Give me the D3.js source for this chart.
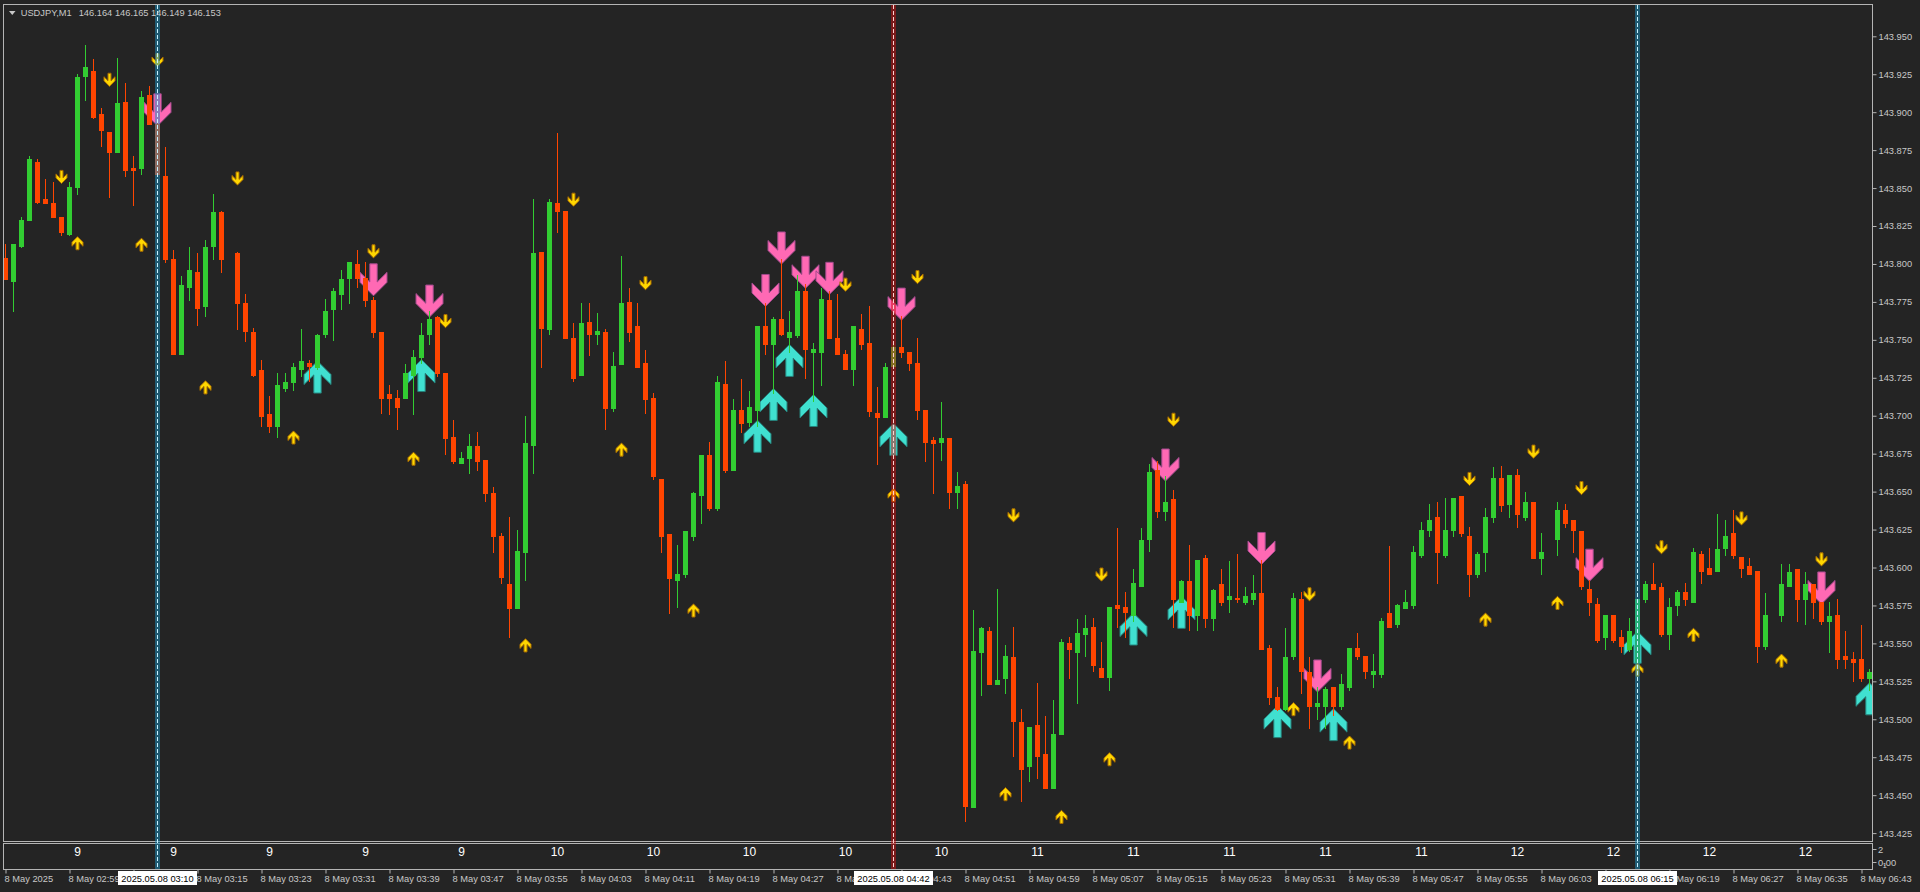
<!DOCTYPE html>
<html><head><meta charset="utf-8">
<script src="https://cdn.jsdelivr.net/npm/d3@7"></script>
<style>html,body{margin:0;padding:0;background:#242424;overflow:hidden}svg{display:block}</style>
</head><body><svg id="c" width="1920" height="892"></svg>
<script>
// ---------- DATA (USDJPY M1, 8 May 2025, bars from 02:51) ----------
const symbolTitle = "USDJPY,M1";
const headerQuote = "146.164 146.165 146.149 146.153";
const open = [143.804,143.789,143.812,143.829,143.867,143.843,143.840,143.831,143.820,143.851,
143.924,143.927,143.899,143.887,143.874,143.907,143.863,143.863,143.911,143.892,
143.858,143.803,143.741,143.785,143.795,143.772,143.812,143.834,143.803,143.807,
143.774,143.755,143.730,143.701,143.693,143.718,143.722,143.731,143.735,143.732,
143.754,143.770,143.780,143.791,143.800,143.791,143.776,143.755,143.714,143.712,
143.712,143.727,143.739,143.754,143.765,143.728,143.686,143.669,143.672,143.680,
143.671,143.649,143.621,143.589,143.573,143.610,143.681,143.808,143.757,143.840,
143.835,143.751,143.727,143.762,143.754,143.755,143.705,143.734,143.775,143.759,
143.735,143.712,143.658,143.622,143.592,143.596,143.621,143.648,143.674,143.639,
143.721,143.664,143.704,143.696,143.704,143.759,143.747,143.764,143.752,143.753,
143.782,143.742,143.742,143.776,143.751,143.741,143.731,143.757,143.748,143.702,
143.699,143.733,143.745,143.742,143.735,143.704,143.684,143.683,143.685,143.650,
143.655,143.442,143.544,143.558,143.523,143.527,143.541,143.498,143.469,143.496,
143.477,143.455,143.490,143.550,143.544,143.556,143.561,143.534,143.528,143.575,
143.574,143.569,143.588,143.619,143.664,143.637,143.645,143.577,143.591,143.569,
143.606,143.567,143.589,143.579,143.580,143.577,143.579,143.583,143.547,143.515,
143.507,143.542,143.579,143.531,143.509,143.509,143.521,143.509,143.521,143.547,
143.542,143.530,143.530,143.570,143.563,143.573,143.575,143.608,143.625,143.633,
143.608,143.625,143.647,143.621,143.596,143.610,143.633,143.659,143.642,143.661,
143.633,143.643,143.606,143.610,143.619,143.638,143.631,143.624,143.586,143.576,
143.554,143.569,143.554,143.546,143.538,143.579,143.589,143.587,143.556,143.575,
143.584,143.577,143.609,143.600,143.598,143.613,143.623,143.607,143.601,143.598,
143.548,143.569,143.569,143.588,143.599,143.579,143.589,143.577,143.565,143.569,
143.542,143.540,143.540,143.527];
const high = [143.813,143.813,143.831,143.871,143.869,143.856,143.854,143.831,143.854,143.925,
143.944,143.935,143.903,143.887,143.936,143.919,143.871,143.914,143.917,143.895,
143.877,143.809,143.792,143.811,143.807,143.816,143.846,143.835,143.803,143.808,
143.780,143.758,143.737,143.713,143.728,143.728,143.735,143.757,143.737,143.754,
143.777,143.784,143.796,143.801,143.809,143.801,143.778,143.755,143.720,143.717,
143.734,143.743,143.761,143.769,143.766,143.728,143.697,143.676,143.688,143.689,
143.671,143.653,143.623,143.633,143.625,143.700,143.843,143.808,143.843,143.886,
143.835,143.761,143.774,143.774,143.768,143.757,143.742,143.805,143.784,143.774,
143.743,143.715,143.658,143.622,143.615,143.624,143.650,143.674,143.683,143.726,
143.736,143.711,143.724,143.716,143.759,143.774,143.765,143.803,143.769,143.793,
143.787,143.748,143.784,143.782,143.780,143.743,143.759,143.767,143.772,143.719,
143.735,143.747,143.766,143.742,143.751,143.704,143.686,143.709,143.685,143.663,
143.657,143.572,143.561,143.561,143.586,143.549,143.561,143.507,143.495,143.524,
143.502,143.513,143.553,143.554,143.566,143.569,143.567,143.551,143.574,143.626,
143.584,143.599,143.626,143.668,143.670,143.660,143.651,143.592,143.615,143.605,
143.608,143.586,143.599,143.604,143.609,143.587,143.595,143.605,143.549,143.521,
143.560,143.583,143.584,143.541,143.521,143.521,143.521,143.530,143.547,143.557,
143.542,143.543,143.567,143.614,143.576,143.585,143.614,143.630,143.642,143.643,
143.646,143.646,143.647,143.627,143.610,143.639,143.666,143.667,143.661,143.665,
143.650,143.643,143.623,143.610,143.643,143.642,143.631,143.624,143.592,143.580,
143.569,143.569,143.559,143.567,143.579,143.591,143.603,143.590,143.580,143.585,
143.590,143.613,143.611,143.613,143.635,143.631,143.638,143.607,143.606,143.598,
143.583,143.569,143.602,143.602,143.599,143.597,143.589,143.577,143.577,143.579,
143.558,143.544,143.562,143.533];
const low = [143.790,143.769,143.811,143.829,143.840,143.840,143.831,143.819,143.819,143.846,
143.908,143.896,143.878,143.844,143.874,143.858,143.839,143.859,143.892,143.859,
143.801,143.741,143.741,143.776,143.760,143.766,143.803,143.795,143.803,143.757,
143.749,143.726,143.693,143.689,143.686,143.716,143.717,143.726,143.723,143.731,
143.752,143.750,143.770,143.774,143.785,143.772,143.752,143.702,143.701,143.691,
143.712,143.701,143.735,143.747,143.726,143.675,143.669,143.669,143.662,143.664,
143.644,143.610,143.590,143.554,143.573,143.592,143.662,143.732,143.754,143.821,
143.751,143.723,143.727,143.740,143.747,143.691,143.703,143.734,143.749,143.732,
143.702,143.658,143.610,143.570,143.574,143.594,143.618,143.629,143.638,143.638,
143.663,143.664,143.689,143.693,143.693,143.741,143.715,143.753,143.742,143.752,
143.725,143.710,143.720,143.751,143.741,143.731,143.720,143.744,143.700,143.668,
143.699,143.732,143.739,143.730,143.698,143.670,143.649,143.671,143.639,143.639,
143.433,143.442,143.516,143.523,143.523,143.517,143.476,143.446,143.459,143.461,
143.455,143.455,143.490,143.527,143.511,143.542,143.532,143.528,143.519,143.561,
143.554,143.565,143.588,143.611,143.633,143.631,143.561,143.577,143.559,143.559,
143.561,143.559,143.575,143.571,143.577,143.576,143.576,143.546,143.510,143.506,
143.506,143.540,143.517,143.494,143.500,143.494,143.503,143.507,143.519,143.540,
143.527,143.521,143.528,143.561,143.561,143.573,143.573,143.607,143.621,143.590,
143.607,143.621,143.621,143.581,143.594,143.598,143.630,143.637,143.633,143.627,
143.631,143.606,143.596,143.610,143.608,143.627,143.610,143.586,143.569,143.551,
143.546,143.551,143.544,143.545,143.538,143.577,143.586,143.555,143.546,143.569,
143.575,143.577,143.590,143.596,143.598,143.608,143.606,143.594,143.596,143.538,
143.546,143.569,143.565,143.588,143.565,143.563,143.567,143.563,143.544,143.534,
143.534,143.525,143.525,143.519];
const close = [143.790,143.813,143.829,143.869,143.841,143.840,143.831,143.821,143.851,143.923,
143.930,143.897,143.888,143.874,143.906,143.862,143.862,143.910,143.892,143.859,
143.803,143.741,143.786,143.796,143.771,143.811,143.834,143.803,143.803,143.774,
143.756,143.727,143.700,143.693,143.720,143.722,143.732,143.736,143.733,143.753,
143.769,143.782,143.790,143.801,143.791,143.776,143.755,143.712,143.712,143.706,
143.728,143.739,143.753,143.764,143.728,143.685,143.670,143.672,143.680,143.670,
143.649,143.621,143.594,143.573,143.611,143.682,143.807,143.758,143.841,143.835,
143.751,143.725,143.761,143.754,143.756,143.705,143.733,143.774,143.755,143.732,
143.711,143.660,143.621,143.593,143.596,143.624,143.649,143.674,143.639,143.722,
143.664,143.704,143.695,143.706,143.759,143.747,143.764,143.754,143.755,143.782,
143.744,143.744,143.777,143.751,143.741,143.731,143.759,143.747,143.703,143.699,
143.732,143.745,143.742,143.735,143.704,143.683,143.682,143.685,143.650,143.654,
143.443,143.545,143.560,143.523,143.526,143.542,143.499,143.467,143.495,143.476,
143.455,143.490,143.551,143.546,143.557,143.560,143.536,143.528,143.574,143.573,
143.571,143.590,143.618,143.663,143.637,143.643,143.579,143.591,143.569,143.605,
143.567,143.585,143.577,143.581,143.579,143.581,143.583,143.546,143.515,143.507,
143.541,143.580,143.532,143.509,143.511,143.520,143.509,143.523,143.547,143.542,
143.532,143.532,143.565,143.561,143.575,143.577,143.610,143.625,143.631,143.610,
143.625,143.646,143.623,143.596,143.609,143.633,143.659,143.641,143.661,143.635,
143.643,143.606,143.610,143.610,143.638,143.629,143.625,143.588,143.577,143.552,
143.569,143.552,143.548,143.558,143.579,143.589,143.586,143.556,143.574,143.584,
143.579,143.610,143.598,143.596,143.612,143.621,143.608,143.600,143.596,143.548,
143.569,143.569,143.589,143.597,143.579,143.589,143.577,143.565,143.568,143.540,
143.540,143.538,143.527,143.531];

// small signal arrows (yellow)
const yellowDownIdx = [7,13,19,29,46,55,71,80,105,114,126,137,146,163,183,191,197,207,217,227];
const yellowDownPrice = [143.853,143.917,143.930,143.852,143.804,143.758,143.838,143.783,143.782,143.787,143.630,143.591,143.693,143.578,143.654,143.672,143.648,143.609,143.628,143.601];
const yellowUpIdx = [9,17,25,36,51,65,77,86,111,125,132,138,161,168,185,194,204,211,222];
const yellowUpPrice = [143.818,143.817,143.723,143.690,143.676,143.553,143.682,143.576,143.652,143.455,143.440,143.478,143.511,143.489,143.570,143.581,143.537,143.560,143.543];
// big signal arrows
const pinkDownIdx = [19,46,53,95,97,100,103,112,145,157,164,198,227];
const pinkDownPrice = [143.891,143.779,143.765,143.772,143.800,143.784,143.780,143.763,143.657,143.602,143.518,143.591,143.576];
const cyanUpIdx = [39,52,94,96,98,101,111,141,147,159,166,204,233];
const cyanUpPrice = [143.736,143.737,143.697,143.718,143.747,143.714,143.695,143.570,143.581,143.509,143.507,143.558,143.524];

// vertical marker lines
const vlineIdx = [19,111,204];
const vlineKind = ["cyan","red","cyan"];
const vlineLabels = ["2025.05.08 03:10","2025.05.08 04:42","2025.05.08 06:15"];

// axes
const priceTicks = [143.950,143.925,143.900,143.875,143.850,143.825,143.800,143.775,143.750,143.725,143.700,143.675,143.650,143.625,143.600,143.575,143.550,143.525,143.500,143.475,143.450,143.425];
const timeTickIdx = [0,8,16,24,32,40,48,56,64,72,80,88,96,104,112,120,128,136,144,152,160,168,176,184,192,200,208,216,224,232];
const timeTickLabels = ["8 May 2025","8 May 02:59","8 May 03:07","8 May 03:15","8 May 03:23","8 May 03:31","8 May 03:39","8 May 03:47","8 May 03:55","8 May 04:03","8 May 04:11","8 May 04:19","8 May 04:27","8 May 04:35","8 May 04:43","8 May 04:51","8 May 04:59","8 May 05:07","8 May 05:15","8 May 05:23","8 May 05:31","8 May 05:39","8 May 05:47","8 May 05:55","8 May 06:03","8 May 06:11","8 May 06:19","8 May 06:27","8 May 06:35","8 May 06:43"];
// sub-window (hour indicator)
const subIdx = [9,21,33,45,57,69,81,93,105,117,129,141,153,165,177,189,201,213,225];
const subValues = [9,9,9,9,9,10,10,10,10,10,11,11,11,11,11,12,12,12,12];
const subAxisLabels = ["2","0.00"];

// ---------- DRAW ----------
const FONT = "'Liberation Sans', Arial, sans-serif";
const TXT = "#c8c8c8", FRAME = "#b4b4b4", BG = "#242424";
const svg = d3.select("#c");
svg.append("rect").attr("width",1920).attr("height",892).attr("fill",BG);

const x = d3.scaleLinear().domain([0,233]).range([5,1869]);
const y = d3.scaleLinear().domain([143.425,143.950]).range([833.1,36.3]);

const defs = svg.append("defs");
defs.append("clipPath").attr("id","clip").append("rect").attr("x",4).attr("y",5).attr("width",1868).attr("height",836);

const plot = svg.append("g").attr("clip-path","url(#clip)");

// arrow shapes (tip at 0,0, pointing down)
const bigShape = [[0,0],[13.5,-13.5],[13.5,-23.5],[3.7,-13.8],[3.7,-32],[-3.7,-32],[-3.7,-13.8],[-13.5,-23.5],[-13.5,-13.5]];
const smallShape = bigShape.map(p=>[p[0]*0.41,p[1]*0.41]);
const toPath = pts => "M" + pts.map(p=>p.join(",")).join("L") + "Z";

function drawArrows(idx, prices, shape, dir, fill, stroke){
  plot.append("g").selectAll("path").data(idx.map((d,k)=>({i:d,p:prices[k]}))).join("path")
    .attr("d", toPath(shape))
    .attr("transform", d=>`translate(${x(d.i)+0.5},${y(d.p)}) scale(1,${dir==="down"?1:-1})`)
    .attr("fill", fill).attr("stroke", stroke).attr("stroke-width",1);
}
drawArrows(pinkDownIdx, pinkDownPrice, bigShape, "down", "#ff69b4", "#a04a8c");
drawArrows(cyanUpIdx, cyanUpPrice, bigShape, "up", "#40e0d0", "#26807a");
drawArrows(yellowDownIdx, yellowDownPrice, smallShape, "down", "#ffd700", "#a56a00");
drawArrows(yellowUpIdx, yellowUpPrice, smallShape, "up", "#ffd700", "#a56a00");

// candles
const bars = open.map((o,i)=>({i, o, h:high[i], l:low[i], c:close[i]}));
const col = d => d.c > d.o ? "#32cd32" : (d.c < d.o ? "#ff4500" : "none");
const gc = plot.append("g").attr("shape-rendering","crispEdges");
gc.selectAll("rect.w").data(bars).join("rect").attr("class","w")
  .attr("x", d=>x(d.i)).attr("width",1)
  .attr("y", d=>Math.round(y(d.h)))
  .attr("height", d=>Math.max(1, Math.round(y(d.l))-Math.round(y(d.h))+1))
  .attr("fill", col);
gc.selectAll("rect.b").data(bars).join("rect").attr("class","b")
  .attr("x", d=>x(d.i)-2).attr("width",5)
  .attr("y", d=>Math.round(y(Math.max(d.o,d.c))))
  .attr("height", d=>Math.max(1, Math.round(y(Math.min(d.o,d.c)))-Math.round(y(Math.max(d.o,d.c)))+1))
  .attr("fill", col);

// frames
svg.append("rect").attr("x",3.5).attr("y",4.5).attr("width",1869).attr("height",837)
  .attr("fill","none").attr("stroke",FRAME);
svg.append("rect").attr("x",3.5).attr("y",843.5).attr("width",1869).attr("height",26)
  .attr("fill","none").attr("stroke",FRAME);

// price axis
const ay = svg.append("g").attr("transform","translate(1872.5,0)")
  .call(d3.axisRight(y).tickValues(priceTicks).tickFormat(d3.format(".3f")).tickSize(4).tickSizeOuter(0).tickPadding(2));
ay.select(".domain").remove();
ay.selectAll("line").attr("stroke",FRAME);
ay.selectAll("text").attr("fill",TXT).style("font-family",FONT).style("font-size","9.3px");

// time axis
const ax = svg.append("g").attr("transform","translate(0,869.5)")
  .call(d3.axisBottom(x).tickValues(timeTickIdx).tickFormat((d,k)=>timeTickLabels[k]).tickSize(4).tickSizeOuter(0));
ax.select(".domain").remove();
ax.selectAll(".tick line").attr("stroke",FRAME).attr("transform","translate(0.5,0)");
ax.selectAll("text").attr("fill",TXT).attr("text-anchor","start").attr("x",-1).attr("y",6)
  .style("font-family",FONT).style("font-size","9.3px");

// sub-window values
svg.append("g").selectAll("text").data(subIdx.map((d,k)=>({i:d,v:subValues[k]}))).join("text")
  .attr("x", d=>x(d.i)+0.5).attr("y",856).attr("text-anchor","middle")
  .attr("fill","#ffffff").style("font-family",FONT).style("font-size","12px")
  .text(d=>d.v);
svg.append("line").attr("x1",1872.5).attr("x2",1876.5).attr("y1",849.5).attr("y2",849.5).attr("stroke",FRAME);
svg.append("line").attr("x1",1872.5).attr("x2",1876.5).attr("y1",862.5).attr("y2",862.5).attr("stroke",FRAME);
svg.append("text").attr("x",1878).attr("y",853).attr("fill",TXT).style("font-family",FONT).style("font-size","9.3px").text(subAxisLabels[0]);
svg.append("text").attr("x",1878).attr("y",866).attr("fill",TXT).style("font-family",FONT).style("font-size","9.3px").text(subAxisLabels[1]);
svg.append("text").attr("x",1882.5).attr("y",867.5).attr("fill",TXT).style("font-family",FONT).style("font-size","8px").text("1");

// vertical marker lines
const vg = svg.append("g");
vlineIdx.forEach((vi,k)=>{
  const cx = x(vi);
  const cyan = vlineKind[k]==="cyan";
  vg.append("rect").attr("x",cx-2).attr("y",5).attr("width",5).attr("height",864)
    .attr("fill", cyan ? "rgba(26,144,192,0.5)" : "rgba(208,16,16,0.5)");
  vg.append("line").attr("x1",cx+0.5).attr("x2",cx+0.5).attr("y1",5).attr("y2",869)
    .attr("stroke", cyan ? "#c8f2ff" : "#ffd0d0").attr("stroke-width",1).attr("stroke-dasharray","4,2");
  const tw = 79;
  vg.append("rect").attr("x",cx+0.5-tw/2).attr("y",871).attr("width",tw).attr("height",14).attr("fill","#ffffff");
  vg.append("text").attr("x",cx+0.5).attr("y",881.5).attr("text-anchor","middle").attr("fill","#000000")
    .style("font-family",FONT).style("font-size","9.3px").text(vlineLabels[k]);
});

// header
svg.append("path").attr("d","M9,11L15.5,11L12.25,15Z").attr("fill",TXT);
svg.append("text").attr("x",20.7).attr("y",16).attr("fill",TXT).style("font-family",FONT).style("font-size","9.3px").text(symbolTitle);
svg.append("text").attr("x",78.7).attr("y",16).attr("fill",TXT).style("font-family",FONT).style("font-size","9.3px").text(headerQuote);
</script>
</body></html>
